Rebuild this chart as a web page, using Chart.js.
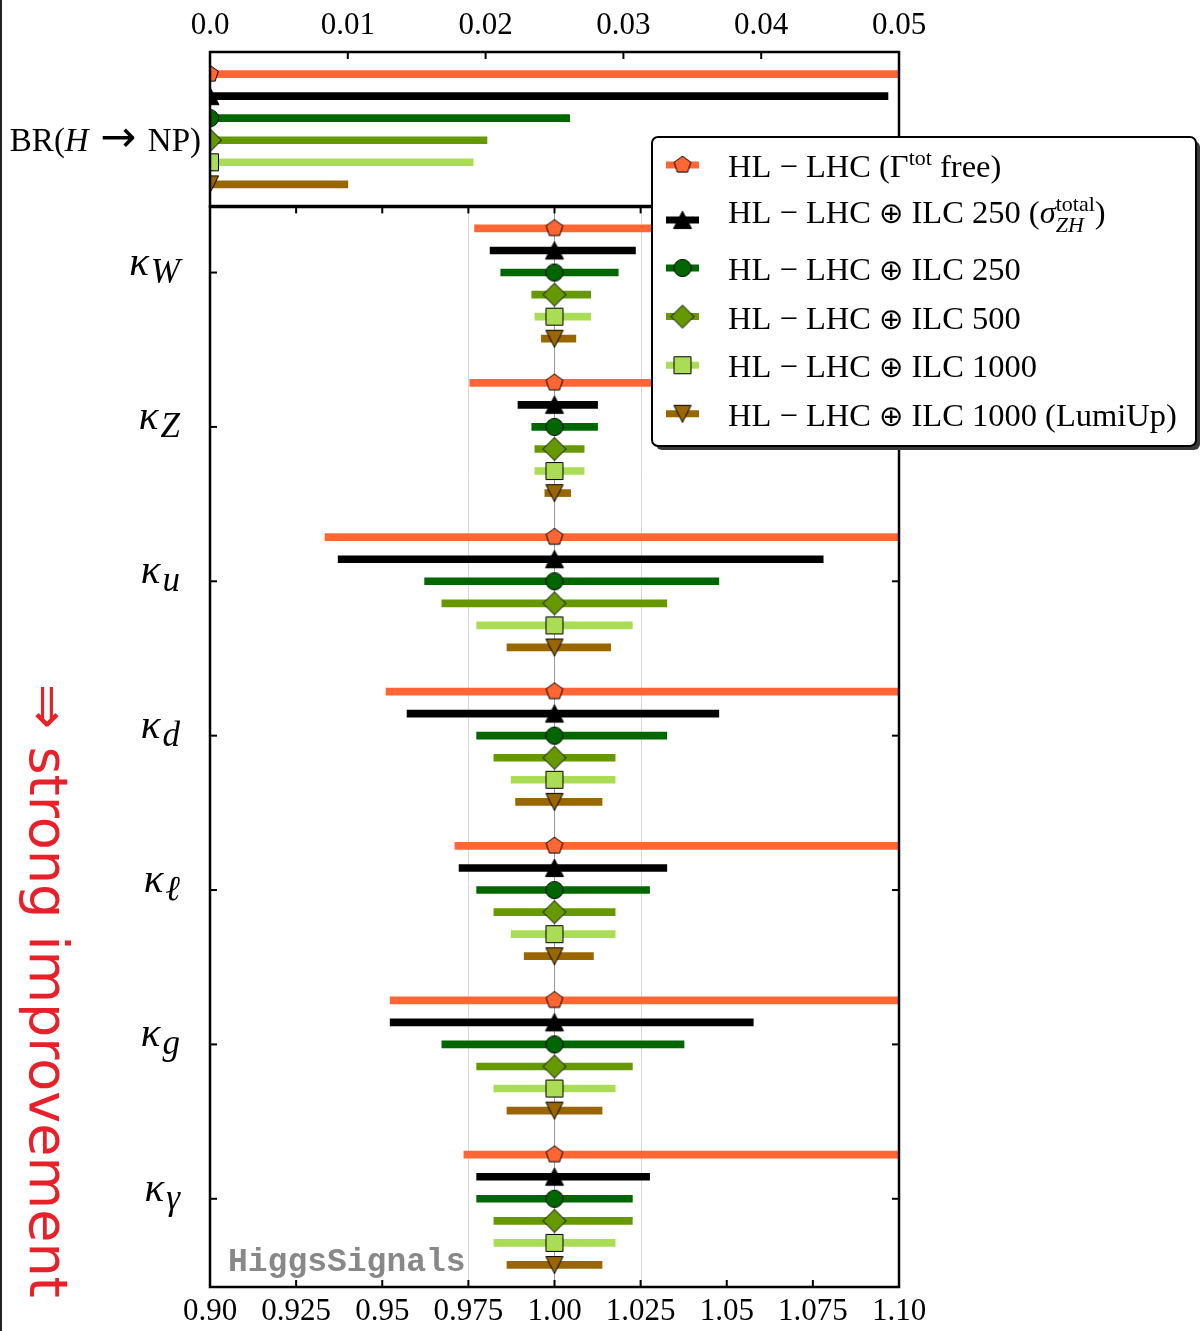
<!DOCTYPE html>
<html><head><meta charset="utf-8">
<script src="https://cdn.jsdelivr.net/npm/chart.js@4.4.1/dist/chart.umd.min.js"></script>
<style>html,body{margin:0;padding:0;background:#fff;overflow:hidden}canvas{display:block}</style>
</head><body>
<canvas id="c" width="1202" height="1331"></canvas>
<script>
// ---------------- data ----------------
const couplingSymbol = 'κ';
const couplings = ['W', 'Z', 'u', 'd', 'ℓ', 'g', 'γ'];
const brRowLabel = 'BR($H$ → NP)';

const seriesLabels = [
  'HL − LHC (Γ^{tot} free)',
  'HL − LHC ⊕ ILC 250 ($σ$^{total}_{$ZH$})',
  'HL − LHC ⊕ ILC 250',
  'HL − LHC ⊕ ILC 500',
  'HL − LHC ⊕ ILC 1000',
  'HL − LHC ⊕ ILC 1000 (LumiUp)'
];
const seriesColors = ['#ff6633', '#000000', '#006600', '#669900', '#aadd55', '#996600'];
const seriesMarkers = ['pentagon', 'triUp', 'circle', 'diamond', 'square', 'triDown'];

const centralKappa = 1.0;
const centralBR = 0.0;

// lower / upper ends of the coupling ranges, order: W Z u d l g gamma
const loHLLHC     = [0.9768, 0.9754, 0.9334, 0.9511, 0.9711, 0.9523, 0.9737];
const hiHLLHC     = [1.035,  1.035,  1.12,   1.12,   1.12,   1.12,   1.12];
const loILC250sZH = [0.9813, 0.9894, 0.9372, 0.9572, 0.9723, 0.9523, 0.9774];
const hiILC250sZH = [1.0235, 1.0125, 1.0780, 1.0477, 1.0326, 1.0577, 1.0276];
const loILC250    = [0.9844, 0.9934, 0.9623, 0.9774, 0.9774, 0.9673, 0.9774];
const hiILC250    = [1.0185, 1.0125, 1.0477, 1.0326, 1.0276, 1.0376, 1.0226];
const loILC500    = [0.9934, 0.9943, 0.9673, 0.9824, 0.9824, 0.9774, 0.9824];
const hiILC500    = [1.0105, 1.0086, 1.0326, 1.0176, 1.0176, 1.0226, 1.0226];
const loILC1000   = [0.9943, 0.9943, 0.9774, 0.9874, 0.9874, 0.9824, 0.9824];
const hiILC1000   = [1.0105, 1.0086, 1.0226, 1.0176, 1.0176, 1.0176, 1.0176];
const loLumiUp    = [0.9962, 0.9972, 0.9862, 0.9887, 0.9912, 0.9862, 0.9862];
const hiLumiUp    = [1.0062, 1.0047, 1.0163, 1.0138, 1.0113, 1.0138, 1.0138];

// upper limits on BR(H -> NP), one per series
const brUpper = [0.051, 0.0492, 0.0261, 0.0201, 0.0191, 0.0100];

const bottomTicks = [0.90, 0.925, 0.95, 0.975, 1.00, 1.025, 1.05, 1.075, 1.10];
const bottomTickLabels = ['0.90', '0.925', '0.95', '0.975', '1.00', '1.025', '1.05', '1.075', '1.10'];
const topTicks = [0.0, 0.01, 0.02, 0.03, 0.04, 0.05];
const topTickLabels = ['0.0', '0.01', '0.02', '0.03', '0.04', '0.05'];

const seriesLows  = [loHLLHC, loILC250sZH, loILC250, loILC500, loILC1000, loLumiUp];
const seriesHighs = [hiHLLHC, hiILC250sZH, hiILC250, hiILC500, hiILC1000, hiLumiUp];

// ---------------- layout of rows (in row-slot units) ----------------
const TOP_SLOTS = 7;
const GROUP_SLOTS = 7;
const TOTAL_SLOTS = TOP_SLOTS + 3 + GROUP_SLOTS * (couplings.length - 1) + 4;
const topRow = i => 1 + i;
const groupCenter = g => TOP_SLOTS + 3 + GROUP_SLOTS * g;
const bottomRow = (g, i) => groupCenter(g) + (i - 2);

// ---------------- markers ----------------
function makeMarker(shape, fill) {
  const c = document.createElement('canvas');
  c.width = 28; c.height = 28;
  const g = c.getContext('2d');
  g.translate(14, 14);
  g.fillStyle = fill; g.strokeStyle = '#000'; g.lineWidth = 1;
  g.beginPath();
  if (shape === 'pentagon') {
    const R = 8.8;
    for (let k = 0; k < 5; k++) {
      const a = -Math.PI / 2 + k * 2 * Math.PI / 5;
      const px = R * Math.cos(a), py = R * Math.sin(a);
      k ? g.lineTo(px, py) : g.moveTo(px, py);
    }
  } else if (shape === 'triUp') {
    g.moveTo(0, -8.8); g.lineTo(9, 8.6); g.lineTo(-9, 8.6);
  } else if (shape === 'circle') {
    g.arc(0, 0, 8.6, 0, Math.PI * 2);
  } else if (shape === 'diamond') {
    g.moveTo(0, -11.5); g.lineTo(11.5, 0); g.lineTo(0, 11.5); g.lineTo(-11.5, 0);
  } else if (shape === 'square') {
    g.rect(-8.5, -8.5, 17, 17);
  } else if (shape === 'triDown') {
    g.moveTo(-8.6, -8.4); g.lineTo(8.6, -8.4); g.lineTo(0, 8.6);
  }
  g.closePath(); g.fill(); g.stroke();
  return c;
}
const markerImgs = seriesMarkers.map((m, i) => makeMarker(m, seriesColors[i]));

// ---------------- datasets ----------------
const datasets = [];
seriesLabels.forEach((lab, i) => {
  datasets.push({
    type: 'bar', label: lab, indexAxis: 'y', xAxisID: 'x', yAxisID: 'y',
    data: couplings.map((c, g) => ({ x: [seriesLows[i][g], seriesHighs[i][g]], y: bottomRow(g, i) })),
    backgroundColor: seriesColors[i], borderWidth: 0, barThickness: 7, grouped: false, order: 2
  });
  datasets.push({
    type: 'bar', label: lab + ' BR', indexAxis: 'y', xAxisID: 'xTop', yAxisID: 'y',
    data: [{ x: [centralBR, brUpper[i]], y: topRow(i) }],
    backgroundColor: seriesColors[i], borderWidth: 0, barThickness: 7, grouped: false, order: 2
  });
});
seriesLabels.forEach((lab, i) => {
  datasets.push({
    type: 'line', label: lab + ' centre', xAxisID: 'x', yAxisID: 'y', showLine: false, clip: 0,
    data: couplings.map((c, g) => ({ x: centralKappa, y: bottomRow(g, i) })),
    pointStyle: markerImgs[i], pointRadius: 9, order: 0
  });
  datasets.push({
    type: 'line', label: lab + ' BR centre', xAxisID: 'xTop', yAxisID: 'y', showLine: false, clip: 0,
    data: [{ x: centralBR, y: topRow(i) }],
    pointStyle: markerImgs[i], pointRadius: 9, order: 0
  });
});

// ---------------- rich text helpers ----------------
const SERIF = '"Liberation Serif", "DejaVu Serif", serif';
const SYMBOLS = /([→⊕])/;
const SYMBOL_STYLE = { '→': { scale: 1.3, pad: 0.1 }, '⊕': { scale: 0.9, pad: 0 } };
function parseRich(s) {
  const runs = []; let it = false, lvl = 'base', buf = '';
  const flush = () => { if (buf) { runs.push({ t: buf, it, lvl }); buf = ''; } };
  for (let i = 0; i < s.length; i++) {
    const ch = s[i];
    if (ch === '$') { flush(); it = !it; continue; }
    if ((ch === '^' || ch === '_') && s[i + 1] === '{') { flush(); lvl = ch === '^' ? 'sup' : 'sub'; i++; continue; }
    if (ch === '}' && lvl !== 'base') { flush(); lvl = 'base'; continue; }
    buf += ch;
  }
  flush();
  return runs;
}
function pieceWidth(ctx, text, font, sz, draw, x, y) {
  let cx = x;
  text.split(SYMBOLS).forEach(p => {
    if (!p) return;
    if (SYMBOL_STYLE[p]) {
      const st = SYMBOL_STYLE[p];
      ctx.font = Math.round(sz * st.scale) + 'px "DejaVu Sans", sans-serif';
      cx += sz * st.pad;
      if (draw) ctx.fillText(p, cx, y);
      cx += ctx.measureText(p).width + sz * st.pad;
    } else {
      ctx.font = font;
      if (draw) ctx.fillText(p, cx, y);
      cx += ctx.measureText(p).width;
    }
  });
  return cx - x;
}
function layoutRich(ctx, runs, size, small, draw, x, base) {
  let cx = x, supStart = 0, supEnd = 0;
  runs.forEach((r, k) => {
    const sz = r.lvl === 'base' ? size : small;
    const font = (r.it ? 'italic ' : '') + sz + 'px ' + SERIF;
    const dy = r.lvl === 'sup' ? -Math.round(size * 0.37) : r.lvl === 'sub' ? Math.round(size * 0.28) : 0;
    const stacked = r.lvl === 'sub' && k > 0 && runs[k - 1].lvl === 'sup';
    if (stacked) cx = supStart;
    if (r.lvl === 'sup') supStart = cx;
    cx += pieceWidth(ctx, r.t, font, sz, draw, cx, base + dy);
    if (stacked) cx = Math.max(cx, supEnd);
    if (r.lvl === 'sup') supEnd = cx;
  });
  return cx - x;
}
const hasStacked = runs => runs.some((r, k) => r.lvl === 'sub' && k > 0 && runs[k - 1].lvl === 'sup');
function roundRectPath(ctx, x, y, w, h, r) {
  ctx.beginPath();
  ctx.moveTo(x + r, y); ctx.lineTo(x + w - r, y); ctx.arcTo(x + w, y, x + w, y + r, r);
  ctx.lineTo(x + w, y + h - r); ctx.arcTo(x + w, y + h, x + w - r, y + h, r);
  ctx.lineTo(x + r, y + h); ctx.arcTo(x, y + h, x, y + h - r, r);
  ctx.lineTo(x, y + r); ctx.arcTo(x, y, x + r, y, r); ctx.closePath();
}

// ---------------- decoration plugin ----------------
const decor = {
  id: 'decor',
  beforeDatasetsDraw(chart) {
    const { ctx, chartArea: a } = chart;
    const x = chart.scales.x, y = chart.scales.y;
    const yb = y.getPixelForValue(TOP_SLOTS);
    ctx.save();
    [[0.975, '#d8d8d8'], [1.0, '#999999'], [1.025, '#d8d8d8']].forEach(([v, col]) => {
      const px = Math.round(x.getPixelForValue(v)) + 0.5;
      ctx.strokeStyle = col; ctx.lineWidth = 1;
      ctx.beginPath(); ctx.moveTo(px, yb); ctx.lineTo(px, a.bottom); ctx.stroke();
    });
    ctx.restore();
  },
  afterDraw(chart) {
    const { ctx, chartArea: a } = chart;
    const x = chart.scales.x, xTop = chart.scales.xTop, y = chart.scales.y;
    const yb = y.getPixelForValue(TOP_SLOTS);
    ctx.save();
    // frames
    ctx.strokeStyle = '#000'; ctx.lineWidth = 2.5;
    ctx.strokeRect(a.left, a.top, a.right - a.left, yb - a.top);
    ctx.strokeRect(a.left, yb, a.right - a.left, a.bottom - yb);
    ctx.lineWidth = 3.5;
    ctx.beginPath(); ctx.moveTo(a.left, yb); ctx.lineTo(a.right, yb); ctx.stroke();
    // inward ticks
    const TL = 7;
    ctx.lineWidth = 2;
    const seg = (x1, y1, x2, y2) => { ctx.beginPath(); ctx.moveTo(x1, y1); ctx.lineTo(x2, y2); ctx.stroke(); };
    bottomTicks.slice(1, -1).forEach(v => {
      const px = x.getPixelForValue(v);
      seg(px, a.bottom, px, a.bottom - TL);
      seg(px, yb, px, yb + TL);
    });
    topTicks.slice(1, -1).forEach(v => {
      const px = xTop.getPixelForValue(v);
      seg(px, a.top, px, a.top + TL);
    });
    couplings.forEach((c, g) => {
      const py = y.getPixelForValue(groupCenter(g));
      seg(a.left, py, a.left + TL, py);
      seg(a.right, py, a.right - TL, py);
    });
    // coupling labels
    ctx.fillStyle = '#000'; ctx.textBaseline = 'alphabetic'; ctx.textAlign = 'left';
    const kFont = 'italic 41px ' + SERIF, sFont = 'italic 35px ' + SERIF;
    couplings.forEach((sub, g) => {
      const py = y.getPixelForValue(groupCenter(g));
      ctx.font = kFont;
      const w1 = ctx.measureText(couplingSymbol).width;
      ctx.font = sFont;
      const w2 = ctx.measureText(sub).width;
      const x0 = 180 - w1 - w2 - 2;
      ctx.font = kFont;
      ctx.fillText(couplingSymbol, x0, py + 2);
      ctx.font = sFont;
      ctx.fillText(sub, x0 + w1 + 2, py + 10);
    });
    // BR row label
    const brRuns = parseRich(brRowLabel);
    const brW = layoutRich(ctx, brRuns, 33, 22, false, 0, 0);
    layoutRich(ctx, brRuns, 33, 22, true, 201 - brW, y.getPixelForValue(4) + 11);
    // watermark
    ctx.font = 'bold 33px "Liberation Mono", "DejaVu Sans Mono", monospace';
    ctx.fillStyle = '#888888';
    ctx.fillText('HiggsSignals', 228, 1271);
    // legend
    const L = { x: 652, y: 137, w: 544, h: 309, r: 6 };
    ctx.fillStyle = '#3a3a3a'; roundRectPath(ctx, L.x + 4, L.y + 4, L.w, L.h, L.r); ctx.fill();
    ctx.fillStyle = '#ffffff'; roundRectPath(ctx, L.x, L.y, L.w, L.h, L.r); ctx.fill();
    ctx.strokeStyle = '#000'; ctx.lineWidth = 2; ctx.stroke();
    let base = 177;
    seriesLabels.forEach((lab, i) => {
      const runs = parseRich(lab);
      if (i > 0) {
        base += 48.6;
        if (hasStacked(runs)) base -= 2.6;
        if (hasStacked(parseRich(seriesLabels[i - 1]))) base += 8.4;
      }
      const my = hasStacked(runs) ? base - 3 : base - 12;
      ctx.strokeStyle = seriesColors[i]; ctx.lineWidth = 7; ctx.lineCap = 'butt';
      seg(666, my, 699, my);
      const img = markerImgs[i];
      ctx.drawImage(img, 682.5 - img.width / 2, my - img.height / 2);
      ctx.fillStyle = '#000';
      layoutRich(ctx, runs, 32.5, 22, true, 728, base);
    });
    // red annotation
    ctx.save();
    ctx.fillStyle = '#e8202a';
    ctx.font = '54px "DejaVu Sans", sans-serif';
    ctx.translate(30, 684); ctx.rotate(Math.PI / 2);
    ctx.fillText('⇒ strong improvement', 0, 0);
    ctx.restore();
    // left edge line
    ctx.fillStyle = '#222'; ctx.fillRect(0, 0, 2, 1331);
    ctx.restore();
  }
};

// ---------------- chart ----------------
Chart.defaults.font.family = SERIF;
const tickFont = { family: SERIF, size: 31 };
new Chart(document.getElementById('c'), {
  type: 'bar',
  data: { datasets },
  plugins: [decor],
  options: {
    responsive: false, animation: false, events: [],
    layout: { padding: { left: 0, right: 303, top: 0, bottom: 0 } },
    plugins: { legend: { display: false }, tooltip: { enabled: false } },
    scales: {
      x: {
        type: 'linear', axis: 'x', position: 'bottom', min: 0.9, max: 1.1, offset: false,
        afterBuildTicks: s => { s.ticks = bottomTicks.map(v => ({ value: v })); },
        ticks: { callback: (v, i) => bottomTickLabels[i], font: tickFont, color: '#000', padding: 6, maxRotation: 0, autoSkip: false },
        grid: { display: false, drawTicks: false }, border: { display: false },
        afterFit: s => { s.height = 44; }
      },
      xTop: {
        type: 'linear', axis: 'x', position: 'top', min: 0, max: 0.05, offset: false,
        afterBuildTicks: s => { s.ticks = topTicks.map(v => ({ value: v })); },
        ticks: { callback: (v, i) => topTickLabels[i], font: tickFont, color: '#000', padding: 8, maxRotation: 0, autoSkip: false },
        grid: { display: false, drawTicks: false }, border: { display: false },
        afterFit: s => { s.height = 52; }
      },
      y: {
        type: 'linear', axis: 'y', position: 'left', reverse: true, min: 0, max: TOTAL_SLOTS, offset: false,
        ticks: { display: false }, grid: { display: false, drawTicks: false }, border: { display: false },
        afterFit: s => { s.width = 210; }
      }
    }
  }
});
</script>
</body></html>
